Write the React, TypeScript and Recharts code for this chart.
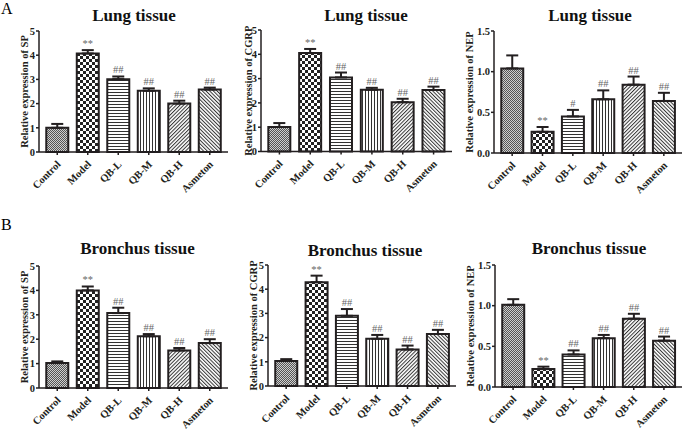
import React from 'react';
import { BarChart, Bar, XAxis, YAxis, Cell, ErrorBar, LabelList, Label } from 'recharts';

const groups = ['Control', 'Model', 'QB-L', 'QB-M', 'QB-H', 'Asmeton'];

// values (mean, SEM)
const lungSP = [1.0, 4.07, 3.01, 2.53, 2.0, 2.58];
const lungSPErr = [0.16, 0.14, 0.11, 0.1, 0.12, 0.08];
const lungCGRP = [1.01, 4.05, 3.05, 2.54, 2.03, 2.53];
const lungCGRPErr = [0.16, 0.17, 0.2, 0.08, 0.14, 0.14];
const lungNEP = [1.04, 0.26, 0.45, 0.66, 0.84, 0.64];
const lungNEPErr = [0.16, 0.06, 0.08, 0.11, 0.1, 0.1];

const bronSP = [1.02, 4.0, 3.07, 2.12, 1.54, 1.84];
const bronSPErr = [0.07, 0.16, 0.22, 0.09, 0.1, 0.16];
const bronCGRP = [1.03, 4.29, 2.9, 1.95, 1.51, 2.15];
const bronCGRPErr = [0.08, 0.27, 0.28, 0.16, 0.16, 0.17];
const bronNEP = [1.01, 0.22, 0.4, 0.6, 0.84, 0.57];
const bronNEPErr = [0.07, 0.03, 0.05, 0.04, 0.06, 0.05];

const sigMarks = ['', '**', '##', '##', '##', '##'];
const lungNEPMarks = ['', '**', '#', '##', '##', '##'];

const ticks5 = [0, 1, 2, 3, 4, 5];
const ticksNEP = [0, 0.5, 1.0, 1.5];

const INK = '#231f20';
const FONT = '"Liberation Serif", "Times New Roman", serif';
const patterns = ['ctrl', 'model', 'qbl', 'qbm', 'qbh', 'asm'];

function PatternDefs() {
  return (
    <svg width={0} height={0} style={{ position: 'absolute' }}>
      <defs>
        <pattern id="pat-ctrl" width={2} height={2} patternUnits="userSpaceOnUse">
          <rect width={2} height={2} fill="#cfcfcf" />
          <rect width={1} height={1} fill="#555" />
          <rect x={1} y={1} width={1} height={1} fill="#555" />
        </pattern>
        <pattern id="pat-model" width={6} height={6} patternUnits="userSpaceOnUse">
          <rect width={6} height={6} fill="#fff" />
          <rect width={3} height={3} fill="#222" />
          <rect x={3} y={3} width={3} height={3} fill="#222" />
        </pattern>
        <pattern id="pat-qbl" width={3} height={3} patternUnits="userSpaceOnUse">
          <rect width={3} height={3} fill="#fff" />
          <line x1={0} y1={0.5} x2={3} y2={0.5} stroke="#333" strokeWidth={1} />
        </pattern>
        <pattern id="pat-qbm" width={3} height={3} patternUnits="userSpaceOnUse">
          <rect width={3} height={3} fill="#fff" />
          <line x1={0.5} y1={0} x2={0.5} y2={3} stroke="#333" strokeWidth={1} />
        </pattern>
        <pattern id="pat-qbh" width={2.6} height={2.6} patternUnits="userSpaceOnUse" patternTransform="rotate(45)">
          <rect width={2.6} height={2.6} fill="#fff" />
          <line x1={0.5} y1={0} x2={0.5} y2={2.6} stroke="#333" strokeWidth={1} />
        </pattern>
        <pattern id="pat-asm" width={2.6} height={2.6} patternUnits="userSpaceOnUse" patternTransform="rotate(-45)">
          <rect width={2.6} height={2.6} fill="#fff" />
          <line x1={0.5} y1={0} x2={0.5} y2={2.6} stroke="#333" strokeWidth={1} />
        </pattern>
      </defs>
    </svg>
  );
}

const XTick = (props: any) => {
  const { x, y, payload } = props;
  const ax = x + 4;
  const ay = y + 8;
  return (
    <text x={ax} y={ay} transform={`rotate(-45 ${ax} ${ay})`} textAnchor="end" fill={INK}
      fontSize={10.5} fontWeight="bold" fontFamily={FONT}>
      {payload.value}
    </text>
  );
};

type PanelProps = {
  ax: number; top: number; plotW: number; plotH: number; yW: number; labelDist: number;
  values: number[]; errs: number[]; marks: string[];
  domain: [number, number]; ticks: number[]; digits: number;
  yLabel: string; title: string; titleX: number; titleY: number;
};

function Panel(p: PanelProps) {
  const rows = groups.map((g, i) => ({
    name: g, value: p.values[i], err: p.errs[i], range: [0, p.errs[i]], mark: p.marks[i],
  }));
  const mTop = 14;
  const xH = 60;

  const yLabelContent = (props: any) => {
    const vb = props.viewBox;
    const cx = vb.x + vb.width - p.labelDist;
    const cy = vb.y + vb.height / 2;
    return (
      <text x={cx} y={cy} transform={`rotate(-90 ${cx} ${cy})`} textAnchor="middle" dominantBaseline="central"
        fill={INK} fontSize={10.5} fontWeight="bold" fontFamily={FONT}>
        {p.yLabel}
      </text>
    );
  };

  const markContent = (props: any) => {
    const { index, value } = props;
    if (!value) return null;
    const vb = props.viewBox || props;
    const r = rows[index];
    const errTop = vb.y - (r.err * vb.height) / r.value;
    return (
      <text x={vb.x + vb.width / 2} y={errTop - 3} textAnchor="middle" fill="#666" fontSize={10.5} fontFamily={FONT}>
        {value}
      </text>
    );
  };

  return (
    <>
      <div style={{
        position: 'absolute', left: p.titleX - 100, top: p.titleY - 14.5, width: 200, textAlign: 'center',
        fontFamily: FONT, fontWeight: 'bold', fontSize: 17, lineHeight: 1, color: '#111',
      }}>
        {p.title}
      </div>
      <div style={{ position: 'absolute', left: p.ax - p.yW, top: p.top - mTop }}>
        <BarChart width={p.yW + p.plotW + 4} height={mTop + p.plotH + xH} data={rows}
          margin={{ top: mTop, right: 4, left: 0, bottom: 0 }} barCategoryGap="14%">
          <XAxis dataKey="name" height={xH} interval={0} padding={{ left: 3, right: 3 }}
            axisLine={{ stroke: INK, strokeWidth: 1.5 }} tickLine={{ stroke: INK, strokeWidth: 1.5 }}
            tickSize={3} tick={<XTick />} />
          <YAxis width={p.yW} domain={p.domain} ticks={p.ticks} interval={0}
            axisLine={{ stroke: INK, strokeWidth: 1.5 }} tickLine={{ stroke: INK, strokeWidth: 1.5 }}
            tickSize={3} tickMargin={1} tickFormatter={(v: number) => v.toFixed(p.digits)}
            tick={{ fill: INK, fontSize: 10.5, fontWeight: 'bold', fontFamily: FONT }}>
            <Label content={yLabelContent} />
          </YAxis>
          <Bar dataKey="value" isAnimationActive={false} stroke={INK} strokeWidth={2}>
            {rows.map((r, i) => (
              <Cell key={r.name} fill={`url(#pat-${patterns[i]})`} />
            ))}
            <ErrorBar dataKey="range" width={6} stroke={INK} strokeWidth={2} direction="y" />
            <LabelList dataKey="mark" content={markContent} />
          </Bar>
        </BarChart>
      </div>
    </>
  );
}

export default function App() {
  return (
    <div style={{ position: 'absolute', left: 0, top: 0, width: 685, height: 429, background: '#fff', overflow: 'hidden' }}>
      <PatternDefs />
      <div style={{ position: 'absolute', left: 1, top: 0, fontFamily: FONT, fontSize: 16, lineHeight: 1.1 }}>A</div>
      <div style={{ position: 'absolute', left: 1, top: 216, fontFamily: FONT, fontSize: 16, lineHeight: 1.1 }}>B</div>

      <Panel ax={39.3} top={30.7} plotW={189} plotH={121} yW={40} labelDist={15}
        values={lungSP} errs={lungSPErr} marks={sigMarks} domain={[0, 5]} ticks={ticks5} digits={0}
        yLabel="Relative expression of SP" title="Lung tissue" titleX={134} titleY={21} />
      <Panel ax={261} top={29.5} plotW={191} plotH={121.5} yW={40} labelDist={13}
        values={lungCGRP} errs={lungCGRPErr} marks={sigMarks} domain={[0, 5]} ticks={ticks5} digits={0}
        yLabel="Relative expression of CGRP" title="Lung tissue" titleX={366} titleY={21} />
      <Panel ax={493.5} top={30.7} plotW={188} plotH={122} yW={45} labelDist={25}
        values={lungNEP} errs={lungNEPErr} marks={lungNEPMarks} domain={[0, 1.5]} ticks={ticksNEP} digits={1}
        yLabel="Relative expression of NEP" title="Lung tissue" titleX={590} titleY={21} />

      <Panel ax={39.3} top={265.7} plotW={189} plotH={122} yW={40} labelDist={15}
        values={bronSP} errs={bronSPErr} marks={sigMarks} domain={[0, 5]} ticks={ticks5} digits={0}
        yLabel="Relative expression of SP" title="Bronchus tissue" titleX={137.5} titleY={254} />
      <Panel ax={267.5} top={265} plotW={188} plotH={121} yW={40} labelDist={15}
        values={bronCGRP} errs={bronCGRPErr} marks={sigMarks} domain={[0, 5]} ticks={ticks5} digits={0}
        yLabel="Relative expression of CGRP" title="Bronchus tissue" titleX={365} titleY={256} />
      <Panel ax={495} top={265} plotW={187} plotH={122} yW={45} labelDist={25}
        values={bronNEP} errs={bronNEPErr} marks={sigMarks} domain={[0, 1.5]} ticks={ticksNEP} digits={1}
        yLabel="Relative expression of NEP" title="Bronchus tissue" titleX={589} titleY={254} />
    </div>
  );
}
